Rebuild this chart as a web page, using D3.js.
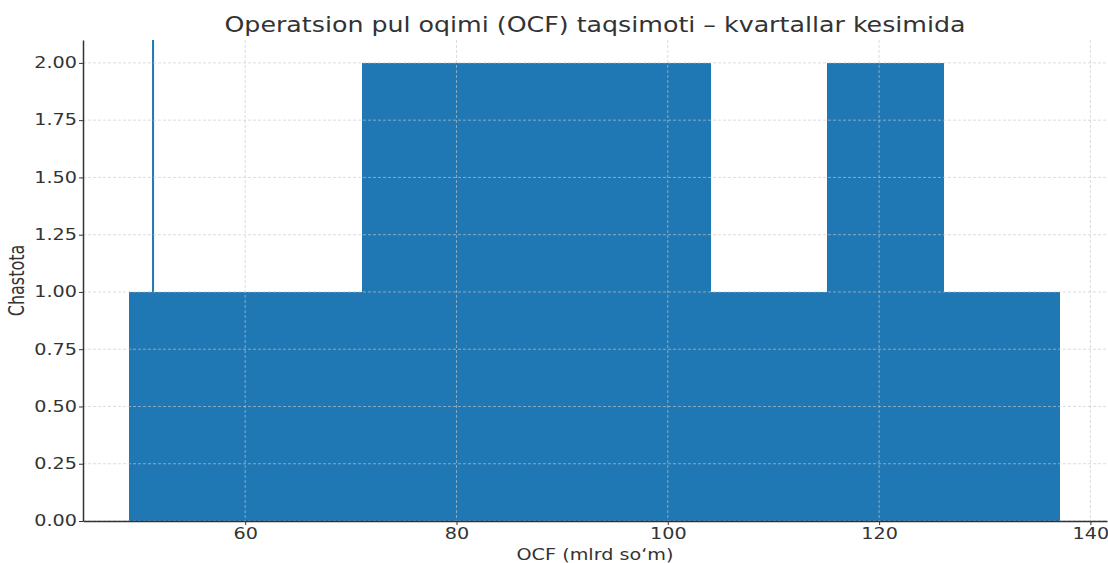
<!DOCTYPE html>
<html>
<head>
<meta charset="utf-8">
<script src="https://cdn.jsdelivr.net/npm/d3@7"></script>
<style>
  body { margin: 0; background: #fff; }
  text { font-family: "DejaVu Sans", sans-serif; fill: #333; }
</style>
</head>
<body>
<svg id="chart" width="1108" height="563"></svg>
<script>
// Histogram bins (OCF, mlrd so'm) and counts
const binEdges = [49.05, 60.06, 71.07, 82.08, 93.09, 104.1, 115.11, 126.12, 137.13];
const binCounts = [1, 1, 2, 2, 2, 1, 2, 1];
const markerValue = 51.28;
const xTicks = [60, 80, 100, 120, 140];
const yTicks = [0, 0.25, 0.5, 0.75, 1.0, 1.25, 1.5, 1.75, 2.0];

const W = 1108, H = 563;
const margin = { top: 40, right: 1, bottom: 42, left: 83 };
const width = W - margin.left - margin.right;
const height = H - margin.top - margin.bottom;
const sx = 1.28; // the picture's text is stretched sideways

const svg = d3.select("#chart");
const g = svg.append("g").attr("transform", `translate(${margin.left},${margin.top})`);

const x = d3.scaleLinear().domain([44.65, 141.57]).range([0, width]);
const y = d3.scaleLinear().domain([0, 2.1]).range([height, 0]);

const bins = binCounts.map((c, i) => ({ x0: binEdges[i], x1: binEdges[i + 1], count: c }));

// marker line (drawn under the bars)
g.append("line")
  .attr("x1", x(markerValue)).attr("x2", x(markerValue))
  .attr("y1", y(0)).attr("y2", 0)
  .attr("stroke", "#1f77b4").attr("stroke-width", 2);

g.selectAll(".bar")
  .data(bins)
  .join("rect")
    .attr("class", "bar")
    .attr("x", d => x(d.x0))
    .attr("width", d => x(d.x1) - x(d.x0))
    .attr("y", d => y(d.count))
    .attr("height", d => y(0) - y(d.count))
    .attr("fill", "#1f77b4")
    .attr("shape-rendering", "crispEdges");

// grid
g.selectAll(".vgrid")
  .data(xTicks)
  .join("line")
    .attr("x1", d => x(d)).attr("x2", d => x(d))
    .attr("y1", 0).attr("y2", height)
    .attr("stroke", "#c8c8c8").attr("stroke-opacity", 0.8)
    .attr("stroke-width", 0.8).attr("stroke-dasharray", "3,2");

g.selectAll(".hgrid")
  .data(yTicks)
  .join("line")
    .attr("x1", 0).attr("x2", width)
    .attr("y1", d => y(d)).attr("y2", d => y(d))
    .attr("stroke", "#c8c8c8").attr("stroke-opacity", 0.8)
    .attr("stroke-width", 0.8).attr("stroke-dasharray", "3,2");

// axes
const xAxis = g.append("g")
  .attr("transform", `translate(0,${height})`)
  .call(d3.axisBottom(x).tickValues(xTicks).tickSize(4).tickPadding(3).tickSizeOuter(0));

const yAxis = g.append("g")
  .call(d3.axisLeft(y).tickValues(yTicks).tickFormat(d3.format(".2f")).tickSize(4).tickSizeOuter(0));

[xAxis, yAxis].forEach(a => {
  a.attr("font-family", null);
  a.select(".domain").attr("stroke", "#333").attr("stroke-width", 1.5);
  a.selectAll(".tick line").attr("stroke", "#333");
  a.selectAll(".tick text")
    .style("font-size", "15px")
    .attr("fill", "#333")
    .attr("transform", `scale(${sx},1)`);
});
yAxis.selectAll(".tick text").attr("x", -6 / sx);

g.append("text")
  .attr("transform", `translate(${width / 2},-8) scale(1.15,1)`)
  .attr("text-anchor", "middle")
  .style("font-size", "22px")
  .text("Operatsion pul oqimi (OCF) taqsimoti – kvartallar kesimida");

g.append("text")
  .attr("transform", `translate(${width / 2},${height + 39}) scale(${sx},1)`)
  .attr("text-anchor", "middle")
  .style("font-size", "15px")
  .text("OCF (mlrd so‘m)");

g.append("text")
  .attr("transform", `translate(${-59},${y(1.05)}) scale(${sx},1) rotate(-90)`)
  .attr("text-anchor", "middle")
  .style("font-size", "16px")
  .text("Chastota");
</script>
</body>
</html>
